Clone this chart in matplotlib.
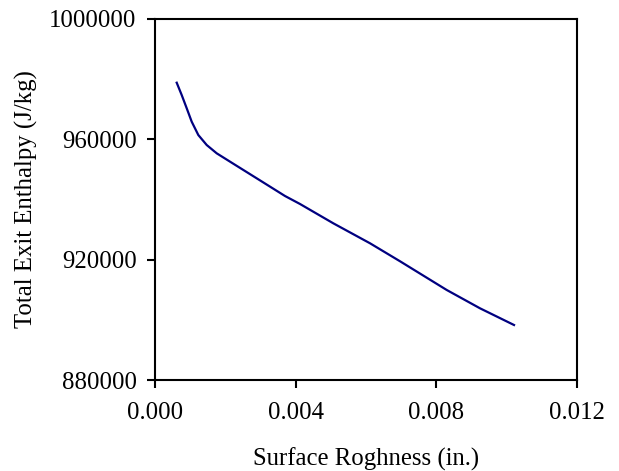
import matplotlib
matplotlib.use("Agg")
import matplotlib.pyplot as plt

roughness = [0.000609, 0.000751, 0.000894, 0.001036, 0.001224, 0.001463, 0.001747,
             0.002174, 0.002931, 0.003691, 0.004118, 0.004496, 0.005065, 0.006110,
             0.006964, 0.008293, 0.009240, 0.010208]
enthalpy = [978760, 974680, 970270, 965820, 961400, 958080, 955330,
            952210, 946700, 941160, 938510, 935950, 932100, 925470,
            919500, 909970, 903890, 898350]

xticks = [0.000, 0.004, 0.008, 0.012]
xtick_labels = ["0.000", "0.004", "0.008", "0.012"]
yticks = [880000, 920000, 960000, 1000000]
ytick_labels = ["880000", "920000", "960000", "1000000"]

plt.rcParams['font.family'] = ['Liberation Serif', 'DejaVu Serif']
fs = 17.8

fig = plt.figure(figsize=(6.19, 4.71), dpi=100)
ax = fig.add_axes([155.3/619, 1 - 380.3/471, (577 - 155.3)/619, (380.3 - 18.7)/471])
ax.plot(roughness, enthalpy, color='#000080', linewidth=1.6)
ax.set_xlim(0, 0.012)
ax.set_ylim(880000, 1000000)
ax.set_xticks(xticks)
ax.set_xticklabels(xtick_labels)
ax.set_yticks(yticks)
ax.set_yticklabels(ytick_labels)
for s in ax.spines.values():
    s.set_linewidth(1.5)
ax.tick_params(direction='out', length=5.5, width=1.5, labelsize=fs, pad=8)
ax.tick_params(axis='x', pad=10)
ax.set_xlabel('Surface Roghness (in.)', fontsize=fs, labelpad=17)
ax.set_ylabel('Total Exit Enthalpy (J/kg)', fontsize=fs, labelpad=8)
fig.savefig('out.png', dpi=100)
